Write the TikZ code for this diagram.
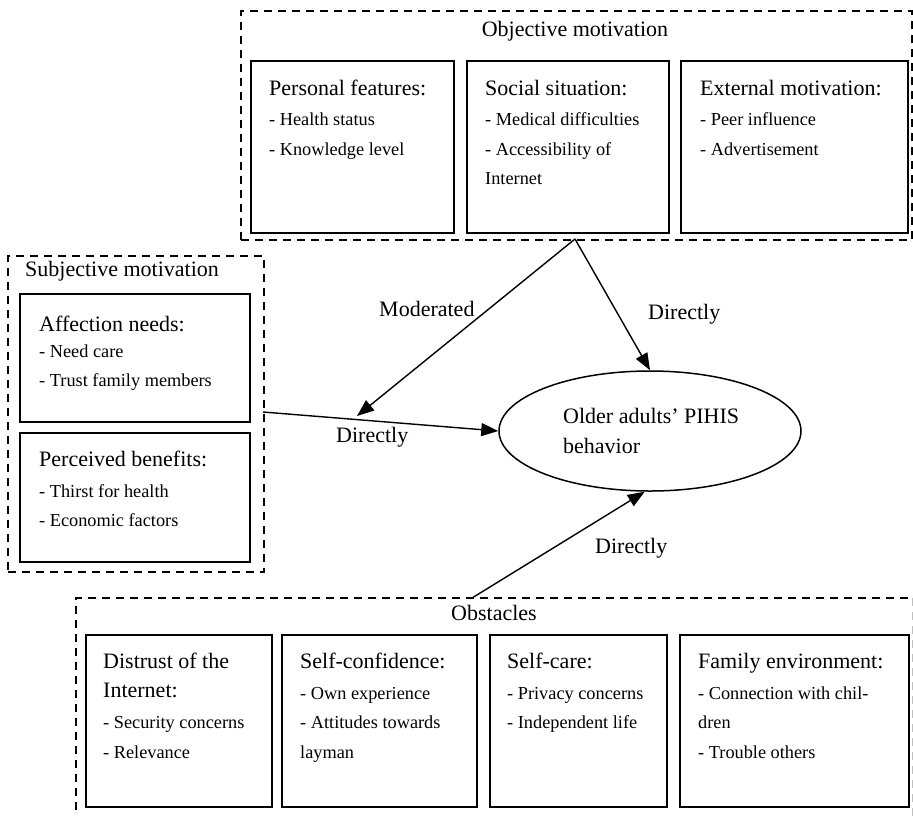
\documentclass[tikz,border=0pt]{standalone}
\usepackage{fontspec}
\setmainfont{Liberation Serif}
\usetikzlibrary{arrows.meta,shapes.geometric}
\begin{document}
\begin{tikzpicture}[x=1pt,y=-1pt,
  grp/.style={line width=1.5pt, dash pattern=on 8pt off 6pt},
  grpbox/.style={rectangle, inner sep=0pt, anchor=north west, draw=none},
  box/.style={draw, line width=1.6pt, rectangle, inner sep=0pt, anchor=north west},
  hd/.style={anchor=base west, inner sep=0pt, font=\fontsize{22}{26}\selectfont},
  it/.style={anchor=base west, inner sep=0pt, font=\fontsize{18.3}{22}\selectfont},
  ttl/.style={anchor=base, inner sep=0pt, font=\fontsize{22}{26}\selectfont},
  lbl/.style={anchor=base west, inner sep=0pt, font=\fontsize{22}{26}\selectfont},
  arr/.style={line width=1.4pt, -{Triangle[length=17pt,width=13pt]}}
]
\useasboundingbox (0,0) rectangle (913,815);

% ---------- Objective motivation ----------
\node[grpbox, draw, grp, minimum width=671pt, minimum height=229pt] (obj) at (240,10) {};
\node[ttl] (objt) at (575,36) {Objective motivation};
\node[box, minimum width=203pt, minimum height=172pt] (pf) at (250,60) {};
\node[box, minimum width=202pt, minimum height=172pt] (ss) at (466,60) {};
\node[box, minimum width=227pt, minimum height=172pt] (em) at (680,60) {};
\node[hd] (pf1) at (269,95) {Personal features:};
\node[it] (pf2) at (269,125) {- Health status};
\node[it] (pf3) at (269,155) {- Knowledge level};
\node[hd] (ss1) at (485,95) {Social situation:};
\node[it] (ss2) at (485,125) {- Medical difficulties};
\node[it] (ss3) at (485,155) {- Accessibility of};
\node[it] (ss4) at (485,184) {Internet};
\node[hd] (em1) at (700,95) {External motivation:};
\node[it] (em2) at (700,125) {- Peer influence};
\node[it] (em3) at (700,155) {- Advertisement};

% ---------- Subjective motivation ----------
\node[grpbox, draw, grp, minimum width=256pt, minimum height=316pt] (subj) at (7,255) {};
\node[lbl] (subjt) at (25,276) {Subjective motivation};
\node[box, minimum width=230pt, minimum height=128pt] (af) at (19,293) {};
\node[box, minimum width=230pt, minimum height=129pt] (pb) at (19,432) {};
\node[hd] (af1) at (39,331) {Affection needs:};
\node[it] (af2) at (39,357) {- Need care};
\node[it] (af3) at (39,386) {- Trust family members};
\node[hd] (pb1) at (39,466) {Perceived benefits:};
\node[it] (pb2) at (39,497) {- Thirst for health};
\node[it] (pb3) at (39,526) {- Economic factors};

% ---------- Behaviour ----------
\node[draw, ellipse, line width=1.5pt, minimum width=302pt, minimum height=120pt, inner sep=0pt] (beh) at (650,431) {};
\node[lbl] (beh1) at (563,423) {Older adults’ PIHIS};
\node[lbl] (beh2) at (563,453) {behavior};

% ---------- Obstacles ----------
\node[grpbox, minimum width=836pt, minimum height=240pt] (obs) at (76,598) {};
\draw[grp] (obs.south west) -- (obs.north west) -- (obs.north east);
\draw[grp, black!25] (obs.north east) -- (obs.south east);
\node[ttl] (obst) at (494,620) {Obstacles};
\node[box, minimum width=186pt, minimum height=172pt] (dt) at (85,634) {};
\node[box, minimum width=195pt, minimum height=172pt] (sc) at (281,634) {};
\node[box, minimum width=177pt, minimum height=172pt] (sf) at (489,634) {};
\node[box, minimum width=229pt, minimum height=172pt] (fe) at (679,634) {};
\node[hd] (dt1) at (103,668) {Distrust of the};
\node[hd] (dt2) at (103,697) {Internet:};
\node[it] (dt3) at (103,728) {- Security concerns};
\node[it] (dt4) at (103,758) {- Relevance};
\node[hd] (sc1) at (300,668) {Self-confidence:};
\node[it] (sc2) at (300,699) {- Own experience};
\node[it] (sc3) at (300,728) {- Attitudes towards};
\node[it] (sc4) at (300,758) {layman};
\node[hd] (sf1) at (507,668) {Self-care:};
\node[it] (sf2) at (507,699) {- Privacy concerns};
\node[it] (sf3) at (507,728) {- Independent life};
\node[hd] (fe1) at (698,668) {Family environment:};
\node[it] (fe2) at (698,699) {- Connection with chil-};
\node[it] (fe3) at (698,728) {dren};
\node[it] (fe4) at (698,758) {- Trouble others};

% ---------- Connectors ----------
\coordinate (apex) at (575,239);
\coordinate (modend) at (357,416);
\coordinate (subjout) at (263,412);
\coordinate (obstop) at (472,598);
\draw[arr] (apex) -- (modend);
\draw[arr] (apex) -- (beh.north);
\draw[arr] (subjout) -- (beh.west);
\draw[arr] (obstop) -- (beh.265);

\node[lbl] (l1) at (379,316) {Moderated};
\node[lbl] (l2) at (648,319) {Directly};
\node[lbl] (l3) at (336,442) {Directly};
\node[lbl] (l4) at (595,553) {Directly};
\end{tikzpicture}
\end{document}
